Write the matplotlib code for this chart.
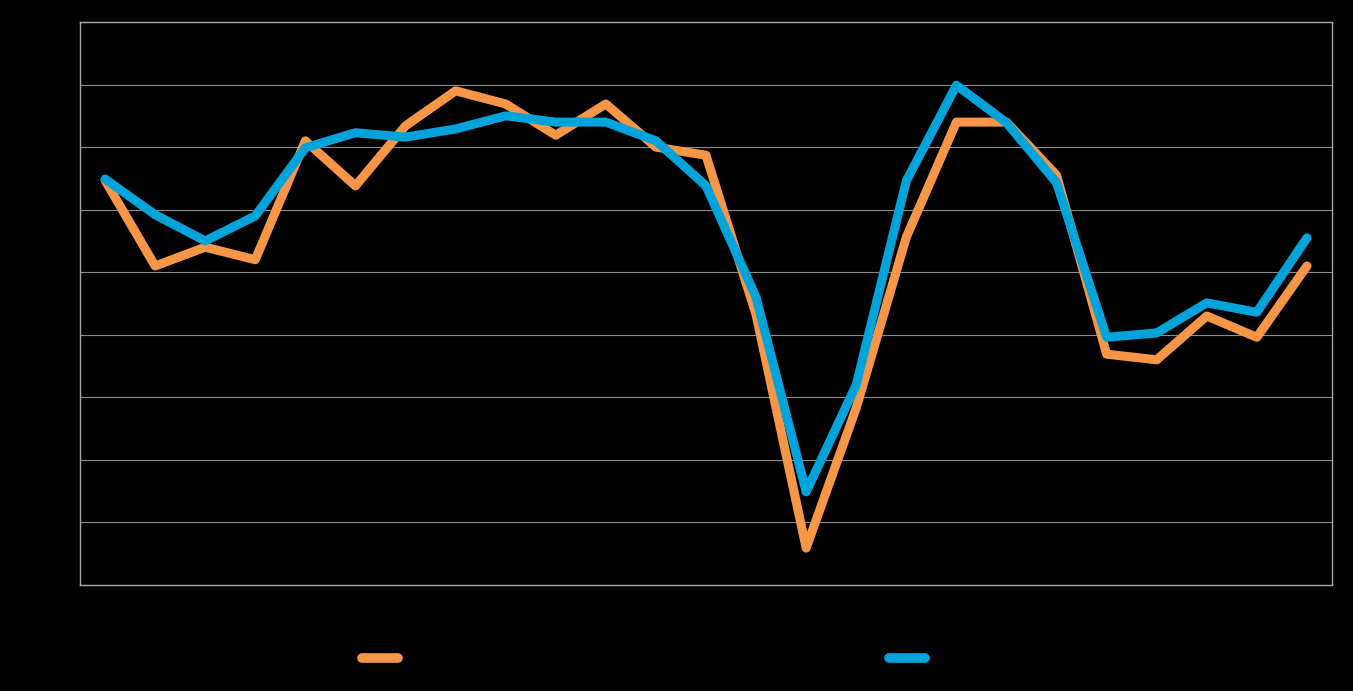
"""Two-series line chart on a black background."""

import matplotlib

matplotlib.use("Agg")
from matplotlib import pyplot as plt
from matplotlib.lines import Line2D

# Periods (25 categories), values in grid units (axis 0..9)
periods = list(range(25))
orange_values = [
    6.47, 5.10, 5.40, 5.20, 7.10, 6.38, 7.34, 7.90, 7.69, 7.19,
    7.69, 7.00, 6.87, 4.32, 0.59, 2.83, 5.56, 7.40, 7.40, 6.55,
    3.69, 3.60, 4.30, 3.96, 5.10,
]
blue_values = [
    6.49, 5.92, 5.50, 5.90, 6.99, 7.23, 7.16, 7.29, 7.50, 7.40,
    7.40, 7.10, 6.38, 4.60, 1.49, 3.20, 6.46, 7.99, 7.39, 6.43,
    3.96, 4.03, 4.51, 4.36, 5.55,
]
y_ticks = list(range(10))

ORANGE = "#F79646"
BLUE = "#00A3DA"
GRID = "#8C8C8C"

fig = plt.figure(figsize=(13.53, 6.91), dpi=100, facecolor="black")
ax = fig.add_axes([80 / 1353, 1 - 585 / 691, 1252 / 1353, 563 / 691])
ax.set_facecolor("black")

line_kw = dict(linewidth=6.5, solid_capstyle="round", solid_joinstyle="round")
ax.plot(periods, orange_values, color=ORANGE, zorder=3, **line_kw)
ax.plot(periods, blue_values, color=BLUE, zorder=4, **line_kw)

ax.set_xlim(-0.5, len(periods) - 0.5)
ax.set_ylim(0, 9)
ax.set_yticks(y_ticks)
ax.set_xticks([])
ax.tick_params(axis="y", length=0, labelleft=False)
ax.grid(True, axis="y", color=GRID, linewidth=0.8)
for spine in ax.spines.values():
    spine.set_color("#A6A6A6")
    spine.set_linewidth(1.0)

handles = [
    Line2D([], [], color=ORANGE, linewidth=7, solid_capstyle="round"),
    Line2D([], [], color=BLUE, linewidth=7, solid_capstyle="round"),
]
fig.legend(
    handles,
    ["", ""],
    loc="center",
    bbox_to_anchor=(649 / 1353, 1 - 659 / 691),
    ncol=2,
    frameon=False,
    fontsize=10,
    handlelength=2.6,
    columnspacing=34.5,
    handletextpad=0.8,
)

fig.savefig("out.png", dpi=100, facecolor="black")
